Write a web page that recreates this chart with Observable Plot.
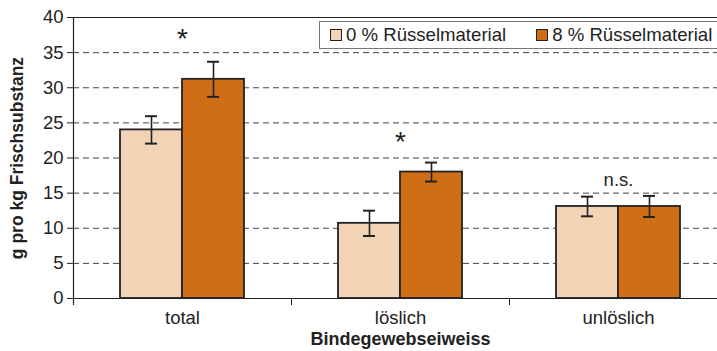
<!DOCTYPE html>
<html>
<head>
<meta charset="utf-8">
<script src="https://cdn.jsdelivr.net/npm/d3@7"></script>
<script src="https://cdn.jsdelivr.net/npm/@observablehq/plot@0.6"></script>
<style>
  html, body { margin: 0; padding: 0; background: #fff; overflow: hidden; }
  #wrap { position: relative; width: 717px; height: 351px; overflow: hidden; font-family: "Liberation Sans", Arial, sans-serif; }
  #chart svg { max-width: none !important; }
  #legend { position: absolute; left: 319px; top: 21px; width: 420px; height: 28px; border: 1px solid #777; background: #fff; box-sizing: border-box; display: flex; align-items: center; font-size: 18.6px; color: #222; white-space: nowrap; }
  .item { display: flex; align-items: center; }
  .sw { width: 10px; height: 10px; border: 1.5px solid #222; margin-right: 4px; }
</style>
</head>
<body>
<div id="wrap"><div id="chart"></div><div id="legend"></div></div>
<script>
// ---- data ----
const categories = ["total", "löslich", "unlöslich"];
const seriesNames = ["0 % Rüsselmaterial", "8 % Rüsselmaterial"];
const seriesColors = ["#F2D3B6", "#D06E18"];
const mean0 = [24.0, 10.7, 13.1];
const err0 = [1.95, 1.8, 1.4];
const mean8 = [31.2, 18.0, 13.1];
const err8 = [2.5, 1.35, 1.5];
const yTicks = [0, 5, 10, 15, 20, 25, 30, 35, 40];
const gridTicks = [5, 10, 15, 20, 25, 30, 35];
const annoText = ["*", "*", "n.s."];
const annoY = [36.9, 22.3, 16.9];
const xTitle = "Bindegewebseiweiss";
const yTitle = "g pro kg Frischsubstanz";

const rows0 = categories.map((c, i) => ({cat: c, series: seriesNames[0], value: mean0[i], lo: mean0[i] - err0[i], hi: mean0[i] + err0[i]}));
const rows8 = categories.map((c, i) => ({cat: c, series: seriesNames[1], value: mean8[i], lo: mean8[i] - err8[i], hi: mean8[i] + err8[i]}));
const annos = categories.map((c, i) => ({cat: c, y: annoY[i], text: annoText[i]}));
const starAnnos = annos.filter(d => d.text === "*");
const nsAnnos = annos.filter(d => d.text !== "*");

const ink = "#222";
const chart = Plot.plot({
  width: 727,
  height: 351,
  marginTop: 17,
  marginBottom: 53,
  marginLeft: 73,
  marginRight: 0,
  style: {fontFamily: "'Liberation Sans', Arial, sans-serif", fontSize: "18px", color: ink, background: "#fff", maxWidth: "none"},
  x: {domain: categories, padding: 0, axis: null},
  y: {domain: [0, 40], axis: null},
  color: {domain: seriesNames, range: seriesColors},
  marks: [
    Plot.ruleY(gridTicks, {stroke: "#444", strokeDasharray: "6,4", strokeWidth: 1}),
    Plot.ruleY([40], {stroke: ink, strokeWidth: 1.2}),
    Plot.barY(rows0, {x: "cat", y: "value", fill: "series", stroke: ink, strokeWidth: 1.8, insetLeft: 47, insetRight: 109}),
    Plot.barY(rows8, {x: "cat", y: "value", fill: "series", stroke: ink, strokeWidth: 1.8, insetLeft: 109, insetRight: 47}),
    Plot.ruleX(rows0, {x: "cat", y1: "lo", y2: "hi", dx: -31, stroke: ink, strokeWidth: 1.6}),
    Plot.ruleX(rows8, {x: "cat", y1: "lo", y2: "hi", dx: 31, stroke: ink, strokeWidth: 1.6}),
    Plot.tickY(rows0, {x: "cat", y: "lo", insetLeft: 72, insetRight: 134, stroke: ink, strokeWidth: 2}),
    Plot.tickY(rows0, {x: "cat", y: "hi", insetLeft: 72, insetRight: 134, stroke: ink, strokeWidth: 2}),
    Plot.tickY(rows8, {x: "cat", y: "lo", insetLeft: 134, insetRight: 72, stroke: ink, strokeWidth: 2}),
    Plot.tickY(rows8, {x: "cat", y: "hi", insetLeft: 134, insetRight: 72, stroke: ink, strokeWidth: 2}),
    Plot.ruleY([0], {stroke: ink, strokeWidth: 1.2}),
    Plot.frame({anchor: "left", stroke: ink, strokeWidth: 1.2, insetBottom: -6}),
    Plot.axisY({ticks: yTicks, tickSize: 6, tickPadding: 4, fontSize: 18.5, stroke: ink, fill: ink, label: null}),
    Plot.axisX({tickSize: 0, tickPadding: 12, fontSize: 18.5, fill: ink, label: null}),
    Plot.axisX({tickSize: 7, dx: -109, tickFormat: () => "", stroke: ink, label: null}),
    Plot.text(starAnnos, {x: "cat", y: "y", text: "text", fontSize: 28, fill: ink}),
    Plot.text(nsAnnos, {x: "cat", y: "y", text: "text", fontSize: 18.5, fill: ink}),
    Plot.text([xTitle], {frameAnchor: "bottom", dy: 41, lineAnchor: "middle", textAnchor: "middle", fontWeight: "bold", fontSize: 18, fill: ink}),
    Plot.text([yTitle], {frameAnchor: "left", dx: -56, rotate: -90, lineAnchor: "middle", textAnchor: "middle", fontWeight: "bold", fontSize: 17.5, fill: ink})
  ]
});
chart.style.maxWidth = "none";
document.getElementById("chart").appendChild(chart);

const legend = document.getElementById("legend");
seriesNames.forEach((name, i) => {
  const item = document.createElement("div");
  item.className = "item";
  item.style.marginLeft = i === 0 ? "10px" : "30px";
  const sw = document.createElement("div");
  sw.className = "sw";
  sw.style.background = seriesColors[i];
  const t = document.createElement("span");
  t.textContent = name;
  item.appendChild(sw);
  item.appendChild(t);
  legend.appendChild(item);
});
</script>
</body>
</html>
